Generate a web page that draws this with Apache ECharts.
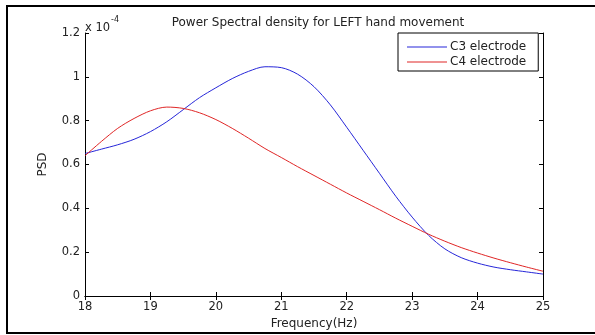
<!DOCTYPE html>
<html>
<head>
<meta charset="utf-8">
<script src="https://cdn.jsdelivr.net/npm/echarts@6/dist/echarts.min.js"></script>
<style>
html,body{margin:0;padding:0;background:#fff;}
#chart{width:595px;height:335px;}
</style>
</head>
<body>
<div id="chart"></div>
<script>
// Frequencies (Hz)
var freqs = [18.0,18.25,18.5,18.75,19.0,19.25,19.5,19.75,20.0,20.25,20.5,20.75,21.0,21.25,21.5,21.75,22.0,22.25,22.5,22.75,23.0,23.25,23.5,23.75,24.0,24.25,24.5,24.75,25.0];
// PSD values in units of 1e-4
var c3Values = [0.65,0.67,0.69,0.715,0.75,0.795,0.85,0.905,0.95,0.992,1.025,1.046,1.042,1.012,0.955,0.872,0.77,0.665,0.56,0.455,0.36,0.277,0.215,0.175,0.15,0.132,0.12,0.11,0.10];
var c4Values = [0.64,0.705,0.765,0.81,0.845,0.862,0.856,0.836,0.805,0.765,0.72,0.673,0.632,0.59,0.55,0.51,0.47,0.432,0.394,0.355,0.318,0.282,0.25,0.221,0.196,0.173,0.152,0.132,0.113];
var seriesNames = ['C3 electrode','C4 electrode'];
var xTicks = [18,19,20,21,22,23,24,25];
var yTicks = [0,0.2,0.4,0.6,0.8,1,1.2];
var titleText = 'Power Spectral density for LEFT hand movement';
var xName = 'Frequency(Hz)';
var yName = 'PSD';

function pairs(xs, ys){ return xs.map(function(x,i){ return [x, ys[i]]; }); }

var FONT = 'DejaVu Sans';
var TXT = '#222';
var BLUE = '#2626d9', RED = '#e02626';
var COLORS = [BLUE, RED];
var chart = echarts.init(document.getElementById('chart'), null, {renderer:'canvas'});
var axisCommon = {
  axisLine:{show:true, lineStyle:{color:'#000', width:1}},
  axisTick:{show:true, inside:true, length:4, lineStyle:{color:'#000'}},
  splitLine:{show:false}
};
chart.setOption({
  animation:false,
  backgroundColor:'#fff',
  title:{
    text:titleText, left:313, textAlign:'center', top:12,
    textStyle:{fontFamily:FONT, fontSize:12, fontWeight:'normal', color:TXT}
  },
  grid:{left:85, right:52, top:33, bottom:37, show:false},
  legend:{
    data:seriesNames.map(function(n,i){
      return {name:n, icon:'rect', itemStyle:{color:COLORS[i], borderWidth:0, opacity:1}};
    }),
    orient:'vertical', left:398, top:33,
    itemWidth:40, itemHeight:1, itemGap:3,
    padding:[8,12,3,9],
    borderColor:'#000', borderWidth:1, backgroundColor:'#fff',
    textStyle:{fontFamily:FONT, fontSize:12, color:TXT, padding:[0,0,0,-2]}
  },
  xAxis:[
    Object.assign({type:'value', min:xTicks[0], max:xTicks[xTicks.length-1], interval:1,
      name:xName, nameLocation:'middle', nameGap:22,
      nameTextStyle:{fontFamily:FONT, fontSize:12, color:TXT},
      axisLabel:{fontFamily:FONT, fontSize:11.5, color:TXT, margin:5}}, axisCommon),
    Object.assign({type:'value', position:'top', min:xTicks[0], max:xTicks[xTicks.length-1], interval:1,
      axisLabel:{show:false}}, axisCommon)
  ],
  yAxis:[
    Object.assign({type:'value', min:yTicks[0], max:yTicks[yTicks.length-1], interval:0.2,
      name:yName, nameLocation:'middle', nameGap:36, nameRotate:90,
      nameTextStyle:{fontFamily:FONT, fontSize:12, color:TXT},
      axisLabel:{fontFamily:FONT, fontSize:11.5, color:TXT, margin:5,
        formatter:function(v){ return String(Math.round(v*10)/10); }}}, axisCommon),
    Object.assign({type:'value', position:'right', min:yTicks[0], max:yTicks[yTicks.length-1], interval:0.2,
      axisLabel:{show:false}}, axisCommon)
  ],
  series:[
    {name:seriesNames[0], type:'line', data:pairs(freqs,c3Values), smooth:0.3, symbol:'none',
      lineStyle:{color:BLUE, width:1}, itemStyle:{color:BLUE}},
    {name:seriesNames[1], type:'line', data:pairs(freqs,c4Values), smooth:0.3, symbol:'none',
      lineStyle:{color:RED, width:1}, itemStyle:{color:RED}}
  ],
  graphic:[
    {type:'rect', shape:{x:7, y:6, width:620, height:327}, style:{fill:null, stroke:'#000', lineWidth:2}, silent:true},
    {type:'text', left:85, top:16, style:{
      text:'{a|x 10}{b|-4}', rich:{
        a:{fontFamily:FONT, fontSize:11.5, fill:TXT, verticalAlign:'bottom', padding:[6,0,0,0]},
        b:{fontFamily:FONT, fontSize:8, fill:TXT, verticalAlign:'top', padding:[0,0,6,1]}
      }}}
  ]
});
</script>
</body>
</html>
